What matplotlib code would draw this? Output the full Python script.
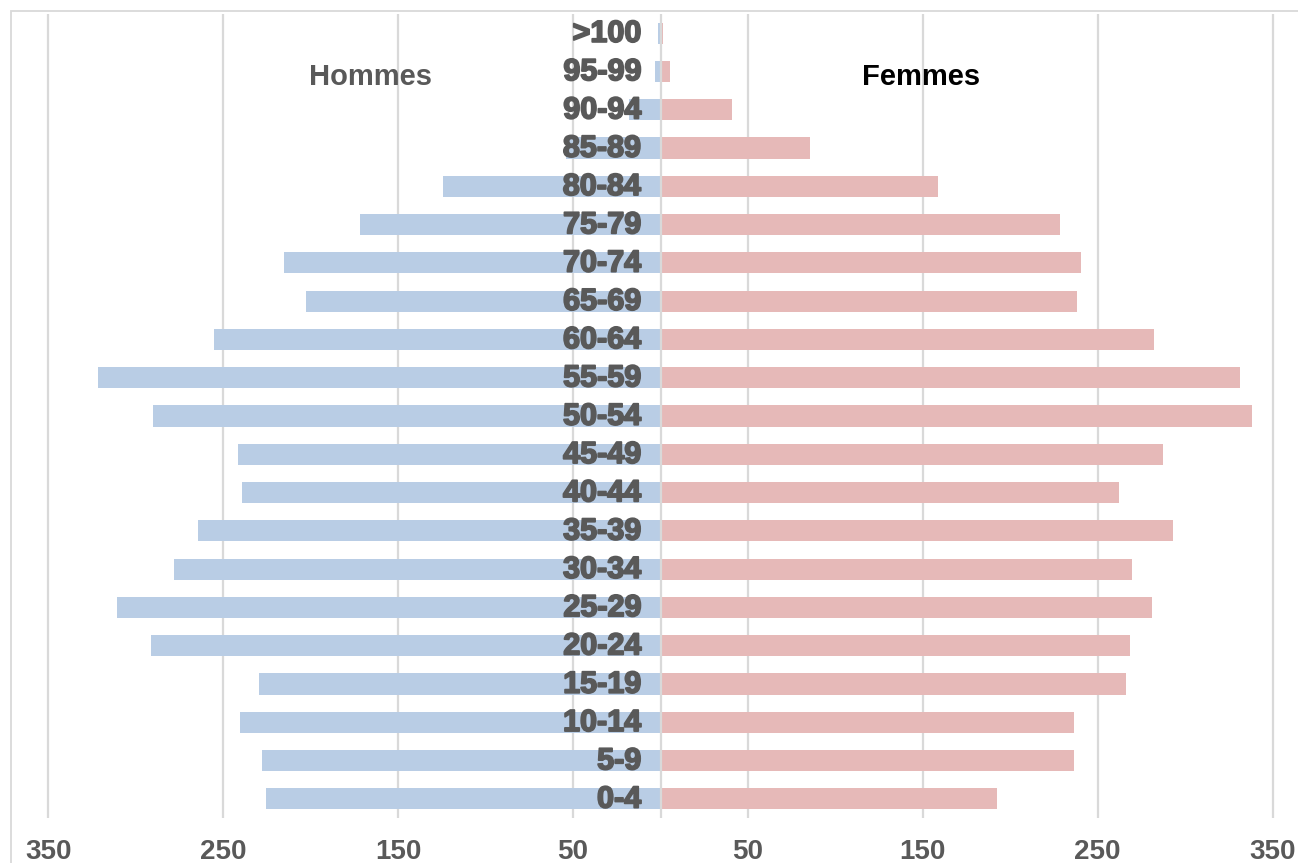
import numpy as np
import matplotlib.pyplot as plt
import matplotlib.patheffects as pe
from matplotlib.patches import Rectangle

# Age groups, bottom to top
ages = ['0-4', '5-9', '10-14', '15-19', '20-24', '25-29', '30-34', '35-39',
        '40-44', '45-49', '50-54', '55-59', '60-64', '65-69', '70-74',
        '75-79', '80-84', '85-89', '90-94', '95-99', '>100']

hommes = [225.7, 228, 240.5, 229.7, 291.5, 311, 278.4, 264.6, 239.4, 241.7,
          290.4, 321.9, 255.4, 202.7, 215.3, 171.8, 124.3, 54, 18.3, 3.4, 1.7]
femmes = [192.4, 236.5, 236.5, 266.3, 268.6, 281.2, 269.8, 293.2, 262.3, 287.5,
          338.5, 331.6, 282.4, 238.3, 240.5, 228.5, 158.6, 85.3, 40.7, 5.6, 1.7]

ticks = [-350, -250, -150, -50, 50, 150, 250, 350]
tick_labels = [str(abs(t)) for t in ticks]

W, H = 1298, 863
fig = plt.figure(figsize=(W / 100, H / 100), dpi=100)
plt.rcParams['font.family'] = ['Liberation Sans', 'DejaVu Sans']

# light border on top and left side of the chart area
fig.add_artist(Rectangle((11 / W, -0.1), 1.2, 1.1 - 11 / H, transform=fig.transFigure,
                         fill=False, edgecolor='#D9D9D9', linewidth=1.3))

ax = fig.add_axes([31 / W, 1 - 818 / H, 1259 / W, (818 - 14) / H])
y = np.arange(len(ages))

ax.barh(y, [-v for v in hommes], height=0.55, color='#B9CDE5', zorder=2)
ax.barh(y, femmes, height=0.55, color='#E6B9B8', zorder=2)

for t in ticks:
    ax.axvline(t, color='#D9D9D9', linewidth=1.6, zorder=1)
ax.axvline(0, color='#D9D9D9', linewidth=1.6, zorder=3)

heavy = [pe.withStroke(linewidth=1.3, foreground='#595959')]
for yi, lab in zip(y, ages):
    ax.text(-11, yi - 0.02, lab, ha='right', va='center', fontsize=22, fontweight='bold',
            color='#595959', zorder=4, path_effects=heavy)

ax.text(-166, 18.85, 'Hommes', ha='center', va='center', fontsize=21,
        fontweight='bold', color='#595959')
ax.text(149, 18.85, 'Femmes', ha='center', va='center', fontsize=21,
        fontweight='bold', color='black')

ax.set_xlim(-360, 360)
ax.set_ylim(-0.5, len(ages) - 0.5)
ax.set_xticks(ticks)
ax.set_xticklabels(tick_labels, fontsize=20, fontweight='bold', color='#595959')
ax.set_yticks([])
ax.tick_params(axis='x', length=0, pad=15)
for s in ax.spines.values():
    s.set_visible(False)

fig.savefig('out.png', dpi=100)
